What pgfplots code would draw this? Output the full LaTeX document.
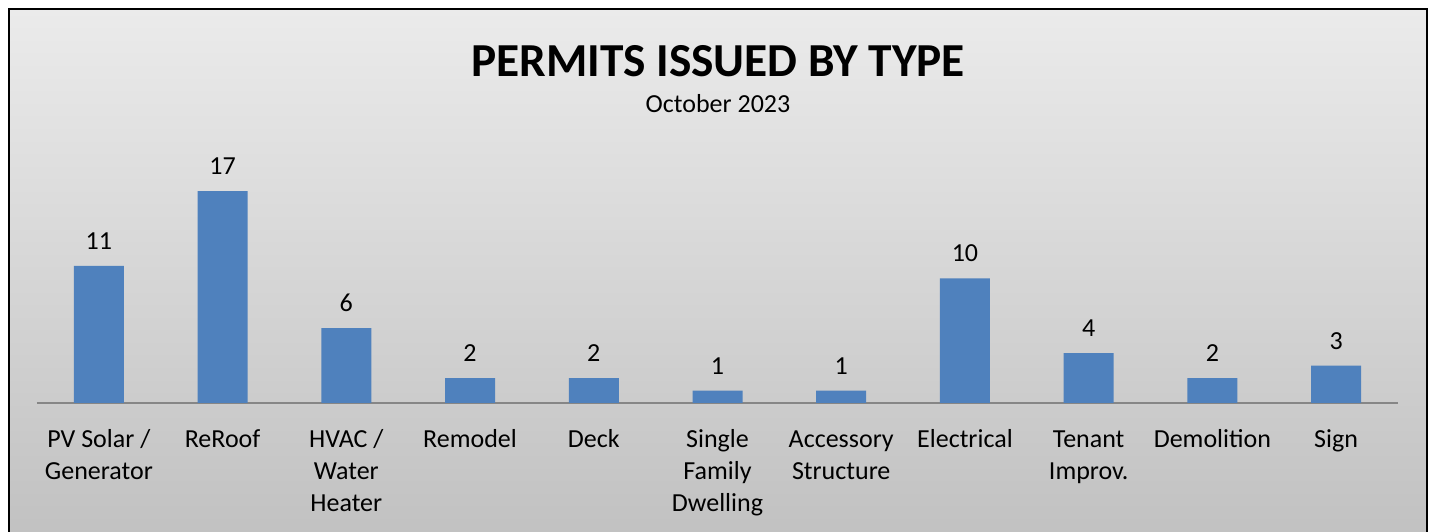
\documentclass[border=0pt]{standalone}
\usepackage{pgfplots}
\pgfplotsset{compat=1.18}
\usepackage{fontspec}
\setmainfont{Carlito}
\definecolor{barblue}{HTML}{4F81BD}
\definecolor{axgray}{HTML}{868686}
\definecolor{bgtop}{HTML}{EBEBEB}
\definecolor{bgbot}{HTML}{C1C1C1}
\begin{document}
\begin{tikzpicture}
\clip (0,0) rectangle (1071.75pt,399pt);
\fill[white] (0,0) rectangle (1071.75pt,399pt);
\shade[top color=bgtop, bottom color=bgbot] (6.375pt,-4pt) rectangle (1070.25pt,392.25pt);
\draw[black, line width=1.5pt] (6.375pt,-4pt) -- (6.375pt,392.25pt) -- (1070.25pt,392.25pt) -- (1070.25pt,-4pt);
\node[font=\fontsize{35.5pt}{40pt}\selectfont\bfseries, anchor=base] at (538.5pt,341.25pt) {PERMITS ISSUED BY TYPE};
\node[font=\fontsize{19.5pt}{24pt}\selectfont, anchor=base] at (538.5pt,314.25pt) {October 2023};
\begin{axis}[
  at={(27.75pt,96.75pt)}, anchor=south west,
  scale only axis, width=1020.75pt, height=187pt,
  xmin=-0.5, xmax=10.5, ymin=0, ymax=20,
  axis x line*=bottom, axis y line=none,
  axis line style={axgray, line width=1.5pt},
  ybar, bar width=37.5pt,
  xtick=data, xtick style={draw=none},
  xticklabels={{\strut PV Solar /\\Generator},\strut ReRoof,{\strut HVAC /\\Water\\Heater},\strut Remodel,\strut Deck,{\strut Single\\Family\\Dwelling},{\strut Accessory\\Structure},\strut Electrical,{\strut Tenant\\Improv.},\strut Demolition,\strut Sign},
  xticklabel style={font=\fontsize{19.5pt}{24pt}\selectfont, align=center, inner sep=0pt, anchor=north, yshift=-12.3pt},
  /pgf/number format/assume math mode=true,
  nodes near coords,
  nodes near coords style={font=\fontsize{19.5pt}{24pt}\selectfont, inner sep=0pt, anchor=south, yshift=12pt, text=black},
  clip=false,
]
\addplot[fill=barblue, draw=none] coordinates {(0,11) (1,17) (2,6) (3,2) (4,2) (5,1) (6,1) (7,10) (8,4) (9,2) (10,3)};
\end{axis}
\end{tikzpicture}
\end{document}
